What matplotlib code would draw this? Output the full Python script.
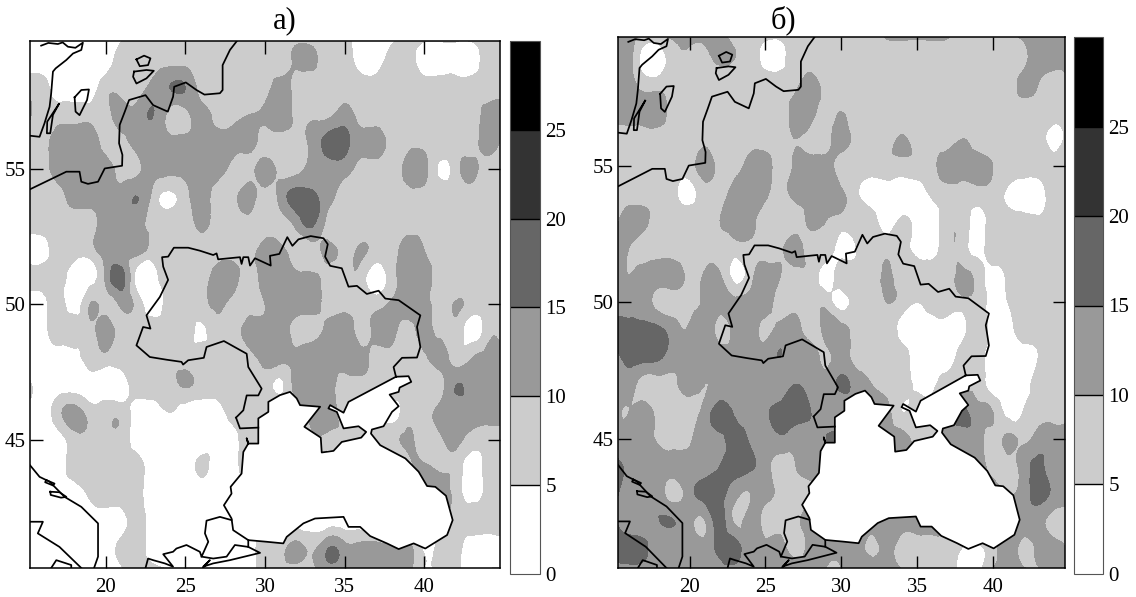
import numpy as np
import matplotlib
matplotlib.use('Agg')
import matplotlib.pyplot as plt
import matplotlib.tri as mtri
from matplotlib.patches import Polygon

plt.rcParams['font.family'] = ['Liberation Serif', 'DejaVu Serif']

# grid: 1 degree, rows north to south
lons = np.arange(15, 46)
lats = np.arange(60, 39, -1)

field_a = [
 [2,2,2,2,2,2,2,8,8,8,8,8,8,8,8,8,8,8,8,8,8,2,2,2,8,8,8,8,8,8,8],
 [2,2,2,2,2,2,8,8,8,8,8,8,8,8,8,8,8,11,11,8,8,2,2,8,8,2,2,2,2,8,8],
 [8,8,2,2,2,8,8,8,12,15,15,8,8,8,8,8,12,8,8,8,8,8,8,8,8,8,8,8,8,8,8],
 [12,8,8,8,8,8,12,12,15,8,8,12,8,8,10,11,12,9,9,9,12,8,8,8,8,8,8,8,8,12,12],
 [8,8,12,12,12,8,8,12,12,12,12,12,12,12,12,8,8,8,12,17,17,12,12,8,8,8,8,8,8,12,8],
 [8,8,12,12,12,12,8,9,12,12,12,12,12,8,8,12,8,8,12,13,12,8,8,8,12,12,4,8,11,8,8],
 [8,8,8,12,12,12,12,15,8,4,8,12,8,8,12,8,12,17,16,12,8,8,8,8,8,8,8,8,8,8,8],
 [8,8,8,8,8,12,12,12,8,8,8,11,8,8,8,8,8,12,16,8,8,8,8,8,8,8,8,8,8,8,8],
 [2,2,8,8,8,12,11,12,8,8,8,8,8,8,8,12,11,8,8,11,9,10.5,8,8,12,10,8,8,8,8,8],
 [8,8,8,2,2,11,17,2,2,8,8,8,12,12,8,12,12,11,11,8,8,8,2,8,12,12,8,8,8,8,8],
 [2,2,8,2,10,8,11,8,2,8,8,8,11,8,8,10,12,12,12,8,8,8,8,11,12,12,8,10.5,8,8,8],
 [2,2,8,8,8,12,8,8,8,8,8,4,8,8,12,12,12,8,8,12,14,8,12,12,8,12,8,8,2,8,8],
 [2,2,2,2,8,8,8,8,8,8,8,8,8,8,8,12,12,12,14,12,12,12,8,8,8,9,12,8,10,12,12],
 [8,2,2,2,2,2,2,8,8,8,10.5,8,8,8,8,8,4,12,12,11,8,8,8,8,8,8,8,15,12,12,12],
 [2,2,8,12,8,8,8,2,2,5,2,2,2,8,8,8,8,8,12,12,8,8,8,3,8,8,12,12,12,12,12],
 [2,2,2,8,8,8,8,2,2,2,2,2,2,2,8,2,2,2,8,8,8,8,8,8,11,7,9,11,8,8,8],
 [2,2,2,8,8,8,8,7,2,2,2,6,2,2,8,2,2,2,2,2,2,2,2,2,8,11,9,8,2,8,8],
 [2,2,2,2,6,8,8,7,2,2,2,2,2,2,2,2,2,2,2,2,2,2,2,2,2,12,12,8,2,7,8],
 [2,2,2,2,2,2,3,7,2,2,2,2,2,2,2,2,2,2,2,2,2,2,2,2,2,2,8,8,8,8,8],
 [2,2,2,2,2,2,7,8,2,2,2,2,2,2,2,8,8,12,9,15,12,12,12,12,12,4,7,7,2,2,2],
 [2,2,2,2,2,2,2,8,8,6,2,2,2,2,2,8,8,2,8,8,12,12,12,8,11,2,7,7,2,7,7],
]

field_b = [
 [12,12,12,12,12,12,12,12,8,8,8,8,8,8,8,8,8,8,12,12,12,12,12,8,10,8,8,12,12,12,12],
 [12,12,2,2,8,9,9,11,10,8,3,3,8,8,8,8,8,8,8,8,8,8,8,8,8,8,8,9,12,12,11],
 [12,12,8,8,8,8,8,8,8,8,8,8,9,12,8,8,8,8,8,8,8,8,8,8,8,8,8,11,10,8,9],
 [12,12,12,12,8,8,8,8,8,8,8,8,12,12,8,10,8,8,8,8,8,8,8,8,8,8,8,8,8,8,4],
 [8,8,8,8,8,8,9,8,8,8,8,8,10,8,8,12,8,8,8,10.5,8,8,8,10,8,8,8,8,8,3,8],
 [8,8,8,8,8,8,12,8,8,12,12,8,11,12,12,8,8,8,8,8,8,9,12,12,12,10,8,8,8,8,8],
 [8,8,8,8,6,3,8,8,12,12,11,8,12,12,12,11,6,2,2,2,2,6,8,8,8,8,4,2,2,8,8],
 [8,12,11,8,8,8,8,10,11,11,8,8,8,11,10,8,8,8,2,6,2,2,8,8,3,8,8,7,6,8,8],
 [12,10,8,8,8,8,8,8,8,9,8,9,12,8,8,3,5,8,8,7,3,3,8,8,3,8,8,8,7,8,8],
 [12,10,12,12,12,9,10.5,10.5,3,8,12,10,8,8,3,8,8,8,10.5,8,8,8,8,11,8,3,6,8,8,8,8],
 [12,12,12,8,8,8,11,12,12,12,12,8,8,8,8,3,8,8,10,8,5,8,8,8,8,3,5,8,8,8,8],
 [17,17,17,16,12,11,14,8,12,12,9,12,12,8,12,12,8,8,9,3,2,2,2,3,8,2,2,8,8,8,8],
 [12,17,17,16,12,12,12,12,12,12,12,15,12,12,9,12,8,8,8,8,2,2,2,8,8,2,2,2,5,8,8],
 [12,12,8,8,9,12,10,12,12,12,12,12,15,12,12,16,13,10,8,8,3,3,8,8,8,2,2,2,8,8,11],
 [12,10,12,8,8,8,12,17,14,12,14,17,17,15,12,12,12,12,12,5,8,8,12,16,12,10,3,5,8,8,9],
 [12,12,12,9,8,9,14,14,17,14,12,14,12,13,15,15,12,12,12,12,8,8,12,12,12,8,11,9,12,12,12],
 [17,14,13,12,12,12,12,15,17,16,12,8,10,12,12,12,12,12,12,12,12,12,12,12,12,8,8,12,16,12,12],
 [17,12,12,12,8,13,17,17,12,10,12,8,8,9,12,12,12,12,12,12,12,12,12,12,12,12,10,12,17,14,12],
 [16,12,12,15,15,12,10,17,9,12,8,8,9,12,12,12,12,12,12,12,12,12,12,12,12,12,12,12,12,8,8],
 [17,17,16,12,12,12,12,17,17,12,12,12,8,12,12,11,12,9,11,8,8,8,8,5,4,8,12,9,11,12,9],
 [12,12,12,12,12,12,12,12,12,12,14,14,14,12,9,9,16,16,11,12,8,8,11,3,4,12,12,12,9,12,12],
]

levels = [0, 5, 10, 15, 20, 25, 30]
grays = ['#ffffff', '#cccccc', '#999999', '#666666', '#333333', '#000000']
bar_ticks = [0, 5, 10, 15, 20, 25]
xticks = [20, 25, 30, 35, 40]
yticks = [45, 50, 55]

# lon, lat
ua_border = [(28.18,45.81),(28.64,46.08),(28.85,46.63),(29.58,46.63),(29.79,46.88),(28.95,47.68),(28.85,48.17),
 (27.42,48.64),(26.33,48.42),(26.16,48.02),(25.18,47.93),(24.86,47.77),(24.76,47.87),(23.82,47.95),(22.77,48.05),
 (21.93,48.48),(22.35,49.16),(22.81,49.10),(22.56,49.59),(23.4,50.27),(23.92,50.9),(23.61,51.39),(23.54,51.74),
 (23.92,51.76),(24.28,52.09),(25.18,52.09),(25.91,51.98),(26.75,51.82),(26.96,51.88),(27.06,51.66),(28.43,51.74),
 (28.53,51.49),(28.64,51.74),(28.95,51.74),(29.06,51.43),(29.37,51.70),(30.36,51.43),(30.31,51.79),(30.9,51.86),
 (31.4,52.48),(31.72,52.16),(32.1,52.4),(32.87,52.52),(33.67,52.44),(33.94,52.22),(33.77,51.76),(34.09,51.42),
 (34.82,51.33),(35.24,50.65),(35.77,50.68),(36.39,50.38),(37.13,50.5),(37.55,50.21),(38.39,50.15),(39.75,49.59),
 (39.54,49.16),(39.75,48.42),(39.54,48.03),(38.6,48.02),(38.07,47.68),(38.22,47.32)]
moldova = [(28.18,45.81),(28.43,45.41),(29.58,45.44)]
sea_coast = [(38.22,47.32),(35.24,46.39),(34.93,45.99),(34.09,46.27),(33.98,46.15),(34.51,46.02),(34.93,45.41),
 (35.87,45.49),(36.35,45.28),(36.04,45.07),(34.82,44.91),(34.3,44.58),(33.56,44.52),(33.5,45.07),(32.47,45.47),
 (33.46,46.21),(32.2,46.27),(31.99,46.52),(31.57,46.76),(30.94,46.64),(30.21,46.39),(30.21,46.02),(29.58,45.78),
 (29.58,45.44),(29.58,44.85),(28.95,44.85),(28.85,45.04),(28.95,44.85),(28.64,44.54),(28.53,43.74),(27.84,43.25),
 (27.9,43.0),(27.42,42.57),(27.9,42.08),(28.0,41.65),(28.95,41.28),(30.1,41.22),(31.15,41.16),(31.36,41.4),
 (32.41,41.9),(33.14,42.08),(34.93,42.14),(35.24,41.77),(35.97,41.77),(36.6,41.43),(37.65,41.16),(38.39,40.95),
 (39.33,41.16),(40.06,40.97),(41.43,41.47),(41.78,42.02),(41.36,42.92),(40.69,43.25),(40.17,43.28),(39.64,43.81),
 (38.81,44.3),(37.23,44.79),(36.65,45.22),(36.71,45.37),(37.44,45.49),(37.97,46.02),(38.39,46.23),(37.82,46.66),
 (38.39,46.76),(38.45,46.92),(39.18,47.13),(39.01,47.34),(38.22,47.32)]
baltic = [(28.26,59.75),(27.8,59.4),(27.34,58.84),(27.34,57.92),(27.17,57.8),(26.2,57.75),(25.7,57.92),(25.03,58.2),
 (24.3,58.04),(24.23,57.67),(23.9,57.12),(22.98,57.36),(22.5,57.73),(21.47,57.55),(21.2,57.12),(20.88,56.63),
 (20.84,55.95),(21.05,55.52),(21.03,55.12),(19.94,55.02),(19.52,54.53),(18.89,54.45),(18.47,54.53),(18.36,54.9),
 (17.53,54.9),(16.48,54.6),(15.25,54.25)]
sweden = [(15.25,56.23),(15.85,56.19),(16.16,56.69),(16.48,57.3),(16.58,57.8),(16.69,58.6),(16.86,58.72),(17.53,59.03),
 (17.95,59.27),(18.47,59.4),(18.57,59.67),(18.1,59.48),(17.63,59.52),(17.3,59.68),(17.0,59.62),(16.4,59.66),(15.95,59.56)]
oland = [(17.06,57.4),(16.69,57.0),(16.52,56.32),(16.31,56.32),(16.33,56.75),(17.06,57.4)]
gotland = [(18.05,57.65),(18.47,57.92),(18.95,57.94),(18.83,57.55),(18.36,56.99),(18.11,57.12),(18.05,57.65)]
isle1 = [(21.93,59.05),(22.41,59.19),(22.81,59.09),(22.66,58.84),(22.14,58.8),(21.93,59.05)]
isle2 = [(21.78,58.6),(22.56,58.66),(23.02,58.63),(22.56,58.35),(21.93,58.16),(21.72,58.41),(21.78,58.6)]
adriatic = [(15.25,44.05),(15.85,43.62),(16.48,43.44),(17.42,42.88),(18.47,42.51),(19.52,41.9),(19.52,40.67),(19.27,40.25)]
italy = [(15.25,41.96),(16.06,41.96),(15.74,41.53),(17.1,41.03),(18.47,40.25)]
isle3 = [(16.27,43.5),(16.79,43.37),(16.7,43.3),(16.2,43.42),(16.27,43.5)]
isle4 = [(16.52,43.07),(17.1,43.05),(17.53,42.88),(17.2,42.85),(16.55,42.95),(16.52,43.07)]
corner = [(16.58,40.25),(16.9,40.54),(17.84,40.36),(17.84,40.25)]
greece = [(22.5,40.25),(22.66,40.6),(22.98,40.54),(23.71,40.42),(24.23,40.3),(23.61,40.76),(24.23,40.85),(24.44,40.97),
 (25.07,41.1),(25.91,40.85),(26.02,40.67),(26.44,41.22),(26.23,41.53),(26.33,42.0),(27.17,42.14),(27.9,42.02)]
marmara = [(26.02,40.67),(26.75,40.6),(27.59,40.67),(28.11,41.1),(28.95,41.03),(28.95,41.28)]
anatolia = [(28.95,41.03),(29.69,40.81),(27.8,40.54),(26.75,40.42),(26.12,40.3),(26.54,40.54),(26.1,40.25)]
outlines = [ua_border, moldova, sea_coast, baltic, sweden, oland, gotland, isle1, isle2, adriatic,
            italy, isle3, isle4, corner, greece, marmara, anatolia]

W, H = 1136.0, 597.0


def place(x0, x1, y0, y1):
    return [x0/W, 1-y1/H, (x1-x0)/W, (y1-y0)/H]


fig = plt.figure(figsize=(W/100, H/100), dpi=100)

lon2, lat2 = np.meshgrid(lons, lats)
tri = mtri.Triangulation(lon2.ravel(), lat2.ravel())
refiner = mtri.UniformTriRefiner(tri)


def panel(field, box, barbox, title, title_x, title_y):
    ax = fig.add_axes(place(*box))
    # the library's own refiner rounds the contours off
    tri2, z2 = refiner.refine_field(np.array(field, dtype=float).ravel(), subdiv=3)
    cs = ax.tricontourf(tri2, z2, levels=levels, colors=grays)
    ax.add_patch(Polygon(sea_coast, closed=True, fc='white', ec='none', zorder=3))
    for line in outlines:
        xy = np.array(line)
        ax.plot(xy[:, 0], xy[:, 1], color='black', lw=1.25, zorder=4, solid_joinstyle='round')
    ax.set_xlim(15.25, 44.75)
    ax.set_ylim(40.25, 59.75)
    ax.set_xticks(xticks)
    ax.set_yticks(yticks)
    ax.tick_params(direction='in', length=9, width=1, top=True, right=True, labelsize=15)
    ax.tick_params(axis='x', pad=7)
    ax.tick_params(axis='y', pad=3)
    for s in ax.spines.values():
        s.set_linewidth(1.1)
        s.set_zorder(5)
    cax = fig.add_axes(place(*barbox))
    cb = fig.colorbar(cs, cax=cax, ticks=bar_ticks, drawedges=True)
    cb.ax.tick_params(length=0, labelsize=15, pad=4)
    cb.outline.set_linewidth(0.8)
    cb.outline.set_edgecolor('#555555')
    cb.dividers.set_linewidth(1.0)
    fig.text(title_x/W, 1-title_y/H, title, fontsize=22, ha='center', va='baseline')


panel(field_a, (30, 500, 40.5, 568), (510, 540, 41, 573.7), 'а)', 285, 28)
panel(field_b, (617.7, 1064.7, 36.7, 568), (1074.3, 1103, 37.3, 573.7), 'б)', 783, 28)

fig.savefig('out.png', dpi=100)
